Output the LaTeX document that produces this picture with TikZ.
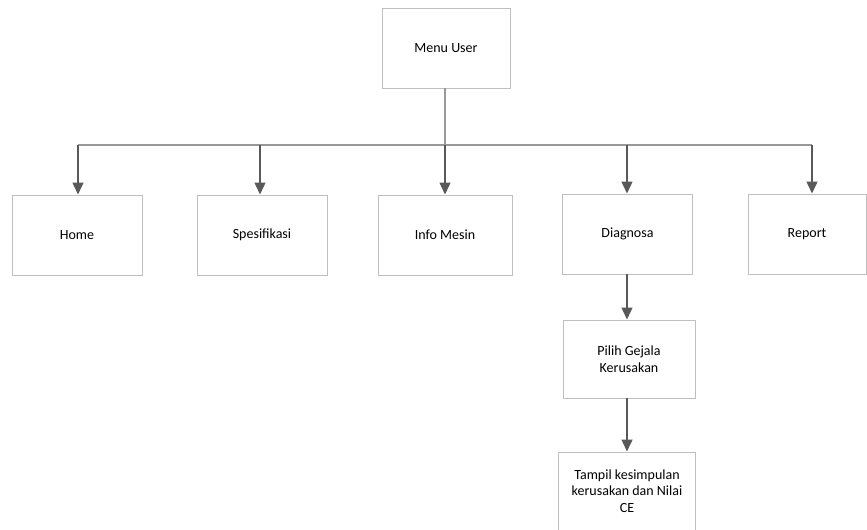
\documentclass[tikz,border=0pt]{standalone}
\usepackage{fontspec}
\setmainfont{Carlito}
\usetikzlibrary{arrows.meta}
\begin{document}
\begin{tikzpicture}[x=0.75pt,y=-0.75pt,
  box/.style={draw=black!25, line width=0.6pt, inner sep=0pt, minimum height=60pt, font=\fontsize{10.5}{12.5}\selectfont, text=black},
  arr/.style={draw=black!65, line width=1.6pt, -{Triangle[length=9pt,width=8pt]}},
  busline/.style={draw=black!40, line width=0.9pt}]
\useasboundingbox (0,0) rectangle (867,530);
\node[box, minimum width=96pt] (menu) at (446,48) {Menu User};
\node[box, minimum width=97.5pt] (home) at (77,235) {Home};
\node[box, minimum width=97.5pt] (spes) at (262,235) {Spesifikasi};
\node[box, minimum width=100.5pt] (info) at (445,235) {Info Mesin};
\node[box, minimum width=98pt] (diag) at (627.5,234) {Diagnosa};
\node[box, minimum width=88.5pt] (report) at (807,234) {Report};
\node[box, minimum width=99pt, minimum height=58.5pt, align=center] (pilih) at (629,359) {Pilih Gejala\\Kerusakan};
\node[box, minimum width=103pt, minimum height=58.5pt, align=center] (tampil) at (627,491) {Tampil kesimpulan\\kerusakan dan Nilai\\CE};
\coordinate (b1) at (78,145);
\coordinate (b2) at (260,145);
\coordinate (b3) at (445,145);
\coordinate (b4) at (627,145);
\coordinate (b5) at (812,145);
\draw[busline] (b1) -- (b5);
\draw[busline] (menu.south -| b3) -- (b3);
\draw[arr] (b1) -- (home.north -| b1);
\draw[arr] (b2) -- (spes.north -| b2);
\draw[arr] (b3) -- (info.north -| b3);
\draw[arr] (b4) -- (diag.north -| b4);
\draw[arr] (b5) -- (report.north -| b5);
\draw[arr] (diag.south -| b4) -- (pilih.north -| b4);
\draw[arr] (pilih.south -| b4) -- (tampil.north -| b4);
\end{tikzpicture}
\end{document}
